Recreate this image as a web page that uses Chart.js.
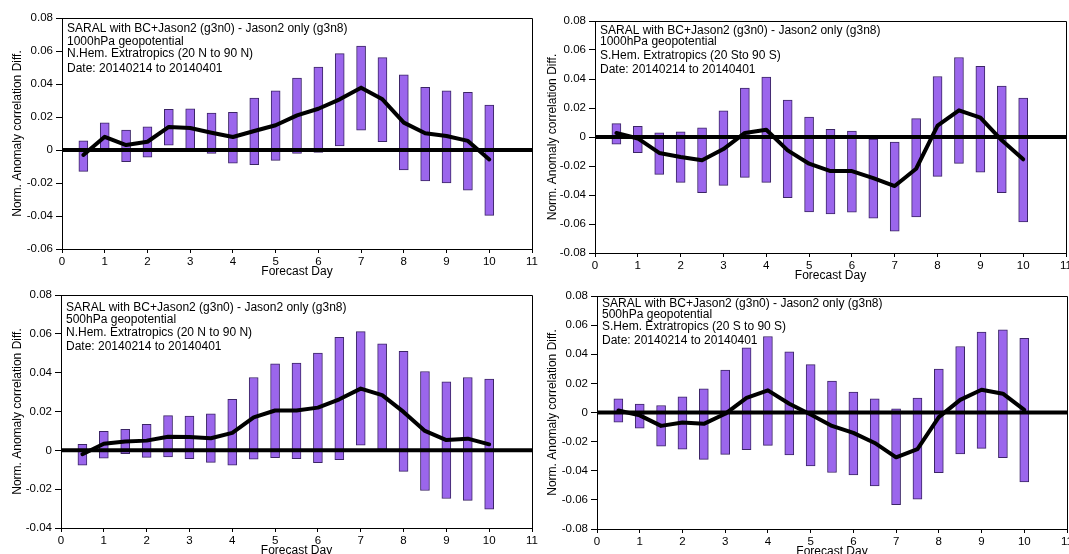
<!DOCTYPE html>
<html>
<head>
<meta charset="utf-8">
<script src="https://cdn.jsdelivr.net/npm/chart.js@4.4.1/dist/chart.umd.min.js"></script>
<style>
  html, body { margin: 0; padding: 0; background: #fff; overflow: hidden; width: 1069px; height: 554px; }
  canvas { position: absolute; }
</style>
</head>
<body>
<canvas id="c1" style="left:0px;top:0px"></canvas>
<canvas id="c2" style="left:535px;top:0px"></canvas>
<canvas id="c3" style="left:0px;top:280px"></canvas>
<canvas id="c4" style="left:535px;top:280px"></canvas>
<script>
// forecast days
var days = [0.5, 1, 1.5, 2, 2.5, 3, 3.5, 4, 4.5, 5, 5.5, 6, 6.5, 7, 7.5, 8, 8.5, 9, 9.5, 10];
var xTicks = [0, 11];

var headLine = "SARAL with BC+Jason2 (g3n0) - Jason2 only (g3n8)";
var dateLine = "Date: 20140214 to 20140401";

// 1000hPa, N.Hem.
var nh1000Hi = [0.0055, 0.0164, 0.012, 0.014, 0.0246, 0.025, 0.0224, 0.0228, 0.0315, 0.0358, 0.0436, 0.0503, 0.0584, 0.063, 0.056, 0.0455, 0.038, 0.0358, 0.035, 0.0273];
var nh1000Lo = [-0.013, -0.001, -0.007, -0.0044, 0.003, 0.0004, -0.002, -0.008, -0.0089, -0.0063, -0.002, -0.0014, 0.0024, 0.012, 0.005, -0.012, -0.0188, -0.02, -0.0244, -0.0396];
var nh1000Mean = [-0.003, 0.008, 0.003, 0.005, 0.014, 0.0133, 0.0105, 0.0079, 0.0115, 0.015, 0.021, 0.025, 0.0307, 0.0378, 0.0307, 0.0166, 0.0101, 0.0085, 0.0055, -0.0057];

// 1000hPa, S.Hem.
var sh1000Hi = [0.0092, 0.0074, 0.0028, 0.0035, 0.0064, 0.018, 0.0338, 0.0414, 0.0255, 0.0138, 0.0053, 0.0041, -0.0014, -0.0035, 0.0127, 0.0417, 0.0548, 0.0488, 0.0352, 0.0269];
var sh1000Lo = [-0.005, -0.0108, -0.0258, -0.0313, -0.0384, -0.0334, -0.0278, -0.0313, -0.0419, -0.0516, -0.053, -0.0518, -0.056, -0.065, -0.0552, -0.0272, -0.0182, -0.0242, -0.0384, -0.0585];
var sh1000Mean = [0.0028, -0.001, -0.011, -0.0138, -0.0161, -0.0083, 0.0028, 0.005, -0.0092, -0.0184, -0.0235, -0.0235, -0.0283, -0.0338, -0.0219, 0.0078, 0.0184, 0.0133, -0.0023, -0.0154];

// 500hPa, N.Hem.
var nh500Hi = [0.0031, 0.0098, 0.0108, 0.0134, 0.0179, 0.0177, 0.0188, 0.0263, 0.0375, 0.0446, 0.0449, 0.0501, 0.0582, 0.0611, 0.0549, 0.051, 0.0406, 0.0353, 0.0375, 0.0367];
var nh500Lo = [-0.0077, -0.004, -0.0017, -0.0036, -0.0034, -0.0043, -0.0062, -0.0077, -0.0046, -0.0038, -0.0043, -0.0064, -0.0048, 0.0026, 0.0005, -0.0108, -0.0207, -0.0248, -0.0258, -0.0303];
var nh500Mean = [-0.002, 0.0034, 0.0046, 0.005, 0.007, 0.0069, 0.0062, 0.009, 0.017, 0.0205, 0.0205, 0.022, 0.0263, 0.0318, 0.0284, 0.0198, 0.01, 0.0053, 0.006, 0.0031];

// 500hPa, S.Hem.
var sh500Hi = [0.0094, 0.0058, 0.0048, 0.0108, 0.0163, 0.0292, 0.0444, 0.0522, 0.0417, 0.0329, 0.0216, 0.014, 0.0094, 0.0025, 0.0099, 0.0299, 0.0453, 0.0552, 0.0568, 0.0509];
var sh500Lo = [-0.0067, -0.0108, -0.0232, -0.0251, -0.0322, -0.0288, -0.0255, -0.0226, -0.0292, -0.0366, -0.0412, -0.0428, -0.0504, -0.0633, -0.0596, -0.0414, -0.0285, -0.0246, -0.0311, -0.0476];
var sh500Mean = [0.0014, -0.002, -0.0092, -0.0069, -0.0078, -0.0009, 0.0101, 0.0152, 0.006, -0.0014, -0.0092, -0.014, -0.0209, -0.0308, -0.0251, -0.0032, 0.0087, 0.0156, 0.0129, 0.0018];

var FONT = "'Liberation Sans', Arial, sans-serif";

// frame round the plot + the text block in the upper left corner
var boxPlugin = {
    id: 'boxText',
    beforeDatasetsDraw: function (chart) {
        var a = chart.chartArea, ctx = chart.ctx;
        ctx.save();
        ctx.strokeStyle = '#000';
        ctx.lineWidth = 1;
        ctx.beginPath();
        ctx.moveTo(a.left, a.top + 0.5);
        ctx.lineTo(a.right + 0.5, a.top + 0.5);
        ctx.lineTo(a.right + 0.5, a.bottom);
        ctx.stroke();
        ctx.restore();
    },
    afterDatasetsDraw: function (chart, args, opts) {
        var a = chart.chartArea, ctx = chart.ctx;
        ctx.save();
        ctx.fillStyle = '#000';
        ctx.font = '12px ' + FONT;
        ctx.textBaseline = 'middle';
        opts.lines.forEach(function (t, i) {
            ctx.fillText(t, a.left + 5, a.top + opts.offsets[i]);
        });
        ctx.restore();
    }
};

function makePanel(id, lo, hi, mean, yMin, yMax, lines, g) {
    var cv = document.getElementById(id);
    cv.width = g.w;
    cv.height = g.h;
    var bars = days.map(function (d, i) { return { x: d, y: [lo[i], hi[i]] }; });
    var line = days.map(function (d, i) { return { x: d, y: mean[i] }; });
    var zero = xTicks.map(function (d) { return { x: d, y: 0 }; });

    return new Chart(cv, {
        type: 'bar',
        data: {
            datasets: [{
                type: 'line',
                data: line,
                borderColor: '#000',
                borderWidth: 4,
                pointRadius: 0,
                borderJoinStyle: 'round',
                borderCapStyle: 'round',
                order: 0
            }, {
                type: 'line',
                data: zero,
                borderColor: '#000',
                borderWidth: 4,
                pointRadius: 0,
                order: 1
            }, {
                data: bars,
                backgroundColor: '#9b66ec',
                borderColor: '#3b2566',
                borderWidth: 1,
                borderSkipped: false,
                barThickness: 9,
                order: 2
            }]
        },
        options: {
            responsive: false,
            animation: false,
            devicePixelRatio: 1,
            layout: { padding: { top: g.top, right: g.right, left: 0, bottom: 0 } },
            plugins: {
                legend: { display: false },
                tooltip: { enabled: false },
                boxText: { lines: lines, offsets: g.offsets }
            },
            scales: {
                x: {
                    type: 'linear',
                    min: 0,
                    max: 11,
                    offset: false,
                    afterFit: function (s) { s.height = 31; },
                    border: { color: '#000', width: 1 },
                    grid: { drawOnChartArea: false, offset: false, tickLength: 4, tickColor: '#000' },
                    ticks: { stepSize: 1, padding: 2, color: '#000', font: { family: FONT, size: 11.5 } },
                    title: { display: true, text: 'Forecast Day', color: '#000', padding: { top: 0, bottom: 1 }, font: { family: FONT, size: 12 } }
                },
                y: {
                    min: yMin,
                    max: yMax,
                    afterFit: function (s) { s.width = g.yw; },
                    border: { color: '#000', width: 1 },
                    grid: { drawOnChartArea: false, tickLength: 6, tickColor: '#000' },
                    ticks: {
                        stepSize: 0.02,
                        padding: 3,
                        color: '#000',
                        font: { family: FONT, size: 11.5 },
                        callback: function (v) { return String(Number(v.toFixed(2))); }
                    },
                    title: { display: true, text: 'Norm. Anomaly correlation Diff.', color: '#000', padding: { top: 10, bottom: 0 }, font: { family: FONT, size: 12 } }
                }
            }
        },
        plugins: [boxPlugin]
    });
}

makePanel('c1', nh1000Lo, nh1000Hi, nh1000Mean, -0.06, 0.08,
    [headLine, '1000hPa geopotential', 'N.Hem. Extratropics (20 N to 90 N)', dateLine],
    { w: 540, h: 280, top: 18, right: 8, yw: 62, offsets: [11, 24, 36, 51] });

makePanel('c2', sh1000Lo, sh1000Hi, sh1000Mean, -0.08, 0.08,
    [headLine, '1000hPa geopotential', 'S.Hem. Extratropics (20 Sto 90 S)', dateLine],
    { w: 540, h: 284, top: 21, right: 9, yw: 60, offsets: [10, 21, 35, 49] });

makePanel('c3', nh500Lo, nh500Hi, nh500Mean, -0.04, 0.08,
    [headLine, '500hPa geopotential', 'N.Hem. Extratropics (20 N to 90 N)', dateLine],
    { w: 540, h: 279, top: 15, right: 8, yw: 61, offsets: [13, 25, 38, 52] });

makePanel('c4', sh500Lo, sh500Hi, sh500Mean, -0.08, 0.08,
    [headLine, '500hPa geopotential', 'S.Hem. Extratropics (20 S to 90 S)', dateLine],
    { w: 540, h: 280, top: 16, right: 8, yw: 62, offsets: [8, 19, 31, 45] });
</script>
</body>
</html>
